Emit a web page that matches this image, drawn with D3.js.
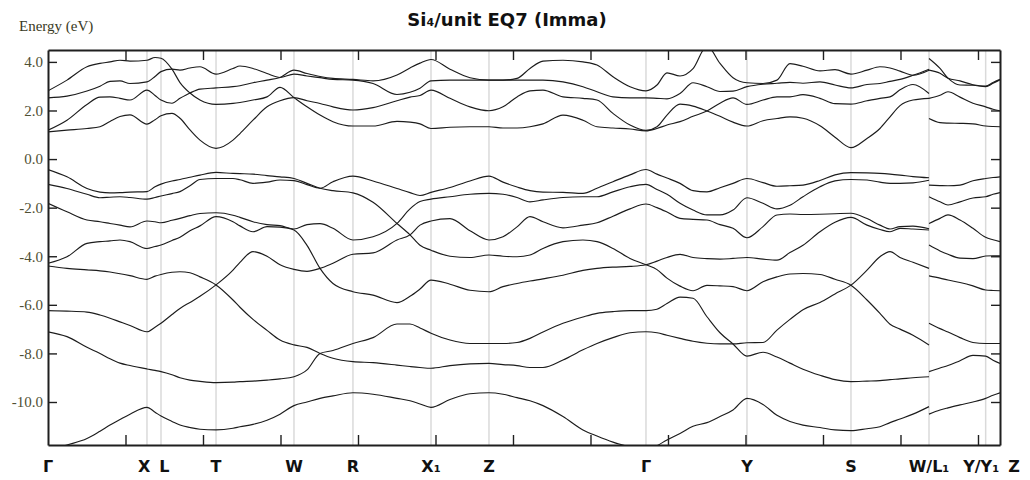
<!DOCTYPE html>
<html>
<head>
<meta charset="utf-8">
<script src="https://cdn.jsdelivr.net/npm/d3@7"></script>
<style>
    body { margin: 0; background: #ffffff; }
</style>
</head>
<body>
<div id="chart"></div>
<script>
// high symmetry points along the path (path length in tick units)
var kPoints = [0, 1.277, 1.458, 2.168, 3.174, 3.935, 4.942, 5.690, 7.716, 9.019, 10.361, 11.368, 12.099, 12.284];
var kLabels = ["Γ", "X", "L", "T", "W", "R", "X₁", "Z", "Γ", "Y", "S", "W/L₁", "Y/Y₁", "Z"];
var pathTicks = [1, 2, 3, 4, 5, 6, 7, 8, 9, 10, 11, 12];
var energyTicks = [4, 2, 0, -2, -4, -6, -8, -10];
var energyRange = [-11.77, 4.49];

// k positions where the bands were read (a repeated value = break W | L1)
var kSamples = [0, 0.245, 0.503, 0.671, 0.800, 0.929, 1.058, 1.277, 1.381, 1.458, 1.600, 1.703, 1.832, 1.961, 2.168,
    2.387, 2.477, 2.645, 2.826, 2.994, 3.174, 3.342, 3.510, 3.677, 3.935,
    4.194, 4.503, 4.671, 4.800, 4.942, 5.187, 5.445, 5.690,
    5.871, 6.052, 6.219, 6.387, 6.645, 6.903, 7.084, 7.290, 7.510, 7.716,
    7.858, 7.987, 8.155, 8.323, 8.503, 8.671, 8.839, 9.019, 9.226, 9.406, 9.574, 9.742, 9.961, 10.155, 10.361,
    10.568, 10.735, 10.865, 10.994, 11.161, 11.368,
    11.368, 11.510, 11.613, 11.768, 11.935, 12.099, 12.194, 12.284];

// energies (eV), one array per band, highest first
var c4 = [2.81, 3.25, 3.80, 3.94, 4.00, 4.07, 4.03, 4.07, 4.18, 4.15, 3.70, 3.66, 3.75, 3.80, 3.50,
    3.73, 3.83, 3.73, 3.52, 3.36, 3.66, 3.52, 3.40, 3.32, 3.28,
    3.22, 3.46, 3.75, 3.95, 4.10, 3.70, 3.35, 3.25,
    3.25, 3.32, 3.73, 4.03, 4.07, 4.00, 3.87, 3.39, 2.98, 2.81,
    3.05, 3.55, 3.42, 3.72, 4.65, 3.94, 3.35, 3.14, 3.11, 3.25, 3.93, 3.82, 3.63, 3.68, 3.50,
    3.66, 3.80, 3.75, 3.62, 3.45, 3.70,
    4.14, 3.73, 3.33, 3.22, 3.06, 3.00, 3.15, 3.28];
var c3 = [2.52, 2.59, 2.80, 3.00, 3.20, 3.22, 3.11, 3.18, 3.40, 3.60, 3.70, 3.15, 2.72, 2.88, 2.93,
    2.98, 3.02, 3.14, 3.25, 3.36, 3.50, 3.42, 3.35, 3.28, 3.25,
    3.11, 2.66, 2.75, 2.92, 3.22, 3.25, 3.25, 3.25,
    3.25, 3.25, 3.25, 3.25, 3.18, 2.98, 2.77, 2.56, 2.52, 2.52,
    2.50, 2.48, 2.70, 3.14, 2.98, 2.78, 2.80, 2.98, 3.08, 3.12, 3.16, 3.12, 3.18, 3.05, 2.93,
    3.07, 3.11, 3.20, 3.28, 3.45, 3.66,
    3.66, 3.53, 3.33, 3.05, 3.04, 2.98, 3.12, 3.26];
var c2 = [1.19, 1.60, 2.25, 2.55, 2.56, 2.50, 2.43, 2.84, 2.62, 2.43, 2.30, 2.50, 2.72, 2.43, 2.25,
    2.29, 2.33, 2.43, 2.56, 2.95, 2.53, 2.40, 2.29, 2.15, 2.02,
    2.12, 2.40, 2.55, 2.62, 2.84, 2.50, 2.15, 1.99,
    2.15, 2.56, 2.81, 2.84, 2.56, 2.50, 2.43, 1.88, 1.40, 1.18,
    1.33, 1.81, 2.26, 2.18, 1.98, 2.30, 2.52, 2.25, 2.43, 2.56, 2.56, 2.65, 2.50, 2.28, 2.26,
    2.40, 2.50, 2.56, 2.85, 3.07, 2.70,
    2.50, 2.63, 2.77, 2.55, 2.30, 2.15, 2.05, 1.99];
var c1 = [1.12, 1.19, 1.26, 1.33, 1.55, 1.75, 1.82, 1.44, 1.62, 1.78, 1.88, 1.68, 1.20, 0.78, 0.44,
    0.78, 1.05, 1.60, 2.15, 2.40, 2.53, 2.15, 1.81, 1.54, 1.36,
    1.36, 1.55, 1.52, 1.45, 1.26, 1.31, 1.33, 1.33,
    1.28, 1.28, 1.33, 1.45, 1.81, 1.60, 1.33, 1.28, 1.24, 1.16,
    1.26, 1.40, 1.54, 1.76, 1.98, 1.76, 1.52, 1.36, 1.58, 1.67, 1.74, 1.68, 1.37, 0.90, 0.47,
    0.85, 1.26, 1.74, 2.20, 2.43, 2.50,
    1.67, 1.50, 1.48, 1.47, 1.45, 1.36, 1.34, 1.33];
var v8 = [-0.43, -0.73, -1.21, -1.36, -1.39, -1.38, -1.36, -1.34, -1.14, -1.03, -0.90, -0.84, -0.75, -0.66, -0.55,
    -0.59, -0.60, -0.62, -0.68, -0.73, -0.80, -1.00, -1.20, -0.93, -0.70,
    -0.90, -1.21, -1.38, -1.50, -1.37, -1.17, -0.90, -0.70,
    -0.95, -1.15, -1.30, -1.36, -1.37, -1.41, -1.20, -0.93, -0.65, -0.43,
    -0.62, -0.78, -1.00, -1.30, -1.35, -1.18, -1.00, -0.80, -0.97, -1.12, -1.10, -1.07, -0.88, -0.65, -0.56,
    -0.57, -0.59, -0.62, -0.66, -0.72, -0.77,
    -1.07, -1.09, -1.10, -1.07, -0.89, -0.80, -0.76, -0.73];
var v7 = [-1.04, -1.21, -1.45, -1.59, -1.57, -1.55, -1.58, -1.65, -1.58, -1.52, -1.42, -1.34, -1.10, -0.84, -0.80,
    -0.80, -0.85, -1.00, -0.95, -0.86, -0.89, -1.05, -1.20, -1.30, -1.39,
    -1.78, -2.65, -2.05, -1.75, -1.65, -1.55, -1.45, -1.41,
    -1.45, -1.58, -1.76, -1.68, -1.58, -1.55, -1.55, -1.35, -1.14, -1.04,
    -1.25, -1.45, -1.82, -2.10, -2.30, -2.30, -2.10, -1.59, -1.82, -2.05, -1.90, -1.55, -1.14, -0.90, -0.84,
    -0.86, -0.95, -1.00, -1.00, -0.98, -0.87,
    -1.55, -1.76, -1.89, -1.76, -1.60, -1.55, -1.45, -1.38];
var v6 = [-1.82, -2.17, -2.51, -2.58, -2.65, -2.72, -2.79, -2.55, -2.58, -2.62, -2.52, -2.44, -2.33, -2.24, -2.21,
    -2.31, -2.40, -2.58, -2.70, -2.74, -2.88, -2.70, -2.66, -2.85, -3.33,
    -3.20, -2.65, -3.12, -2.72, -2.55, -2.45, -2.95, -3.33,
    -3.20, -2.79, -2.37, -2.58, -2.83, -2.72, -2.62, -2.35, -2.05, -1.85,
    -2.00, -2.18, -2.44, -2.48, -2.51, -2.70, -2.85, -3.24, -2.78, -2.30, -2.26, -2.28, -2.27, -2.25, -2.23,
    -2.45, -2.72, -2.88, -2.78, -2.76, -2.87,
    -2.65, -2.44, -2.30, -2.51, -2.85, -3.22, -3.32, -3.40];
var v5 = [-4.29, -4.02, -3.47, -3.40, -3.37, -3.33, -3.40, -3.68, -3.60, -3.54, -3.35, -3.22, -2.95, -2.75, -2.37,
    -2.58, -2.75, -2.99, -2.78, -2.80, -2.92, -3.55, -4.50, -4.29, -3.92,
    -3.86, -3.33, -3.12, -3.55, -3.75, -4.00, -4.05, -3.95,
    -4.00, -4.02, -3.95, -3.68, -3.40, -3.33, -3.40, -3.68, -4.09, -4.35,
    -4.20, -4.05, -3.92, -4.05, -4.10, -4.12, -4.09, -4.05, -4.12, -4.16, -3.85, -3.55, -2.99, -2.60, -2.40,
    -2.72, -2.90, -2.99, -2.85, -2.88, -2.92,
    -3.54, -3.78, -3.92, -4.08, -4.10, -3.99, -3.98, -3.98];
var v4 = [-4.40, -4.50, -4.56, -4.60, -4.65, -4.72, -4.80, -4.95, -4.82, -4.75, -4.66, -4.64, -4.68, -4.85, -5.18,
    -4.57, -4.25, -3.81, -4.00, -4.35, -4.54, -4.62, -4.50, -5.12, -5.46,
    -5.60, -5.91, -5.65, -5.35, -4.98, -5.15, -5.40, -5.46,
    -5.25, -5.12, -5.02, -4.93, -4.78, -4.58, -4.50, -4.45, -4.42, -4.35,
    -4.55, -4.90, -5.23, -5.42, -5.20, -5.22, -5.25, -5.42, -5.05, -4.85, -4.73, -4.71, -4.75, -4.95, -5.19,
    -4.57, -4.02, -3.81, -4.05, -4.25, -4.50,
    -4.81, -4.90, -4.98, -5.08, -5.22, -5.39, -5.41, -5.42];
var v3 = [-6.24, -6.26, -6.30, -6.42, -6.55, -6.70, -6.85, -7.11, -6.92, -6.76, -6.40, -6.15, -5.90, -5.65, -5.18,
    -5.80, -6.10, -6.60, -7.05, -7.45, -7.65, -7.75, -8.00, -7.88, -7.59,
    -7.35, -6.79, -6.79, -6.95, -7.17, -7.45, -7.59, -7.59,
    -7.59, -7.55, -7.38, -7.12, -6.76, -6.50, -6.35, -6.28, -6.24, -6.24,
    -6.18, -5.95, -5.68, -5.73, -6.49, -7.15, -7.61, -7.56, -7.55, -7.04, -6.60, -6.20, -5.90, -5.55, -5.19,
    -5.80, -6.35, -6.80, -7.00, -7.25, -7.65,
    -6.76, -6.98, -7.12, -7.35, -7.55, -7.59, -7.59, -7.59];
var v2 = [-7.11, -7.31, -7.75, -8.00, -8.22, -8.40, -8.50, -8.64, -8.70, -8.75, -8.88, -9.00, -9.10, -9.15, -9.20,
    -9.18, -9.16, -9.14, -9.10, -9.05, -8.96, -8.68, -8.00, -8.20, -8.34,
    -8.38, -8.48, -8.54, -8.58, -8.61, -8.50, -8.43, -8.41,
    -8.46, -8.50, -8.58, -8.58, -8.27, -7.85, -7.59, -7.35, -7.15, -7.11,
    -7.15, -7.25, -7.38, -7.50, -7.58, -7.61, -7.61, -8.11, -7.95, -8.15, -8.40, -8.65, -8.90, -9.08, -9.16,
    -9.14, -9.12, -9.08, -9.05, -9.00, -8.96,
    -8.75, -8.60, -8.50, -8.30, -8.08, -8.11, -8.28, -8.41];
var v1 = [-12.00, -11.77, -11.50, -11.20, -10.95, -10.72, -10.50, -10.22, -10.42, -10.58, -10.80, -10.95, -11.05, -11.12, -11.15,
    -11.08, -11.02, -10.92, -10.75, -10.50, -10.15, -10.00, -9.85, -9.75, -9.62,
    -9.68, -9.85, -9.95, -10.08, -10.22, -9.90, -9.66, -9.62,
    -9.68, -9.82, -9.95, -10.15, -10.60, -11.15, -11.40, -11.65, -11.85, -12.00,
    -11.80, -11.56, -11.30, -11.00, -10.85, -10.60, -10.33, -9.85, -10.10, -10.55, -10.80, -10.95, -11.05, -11.15, -11.18,
    -11.10, -11.02, -10.85, -10.70, -10.50, -10.19,
    -10.50, -10.33, -10.24, -10.12, -10.00, -9.85, -9.72, -9.62];

// [sample index, band slot] where two neighbouring bands cross
var crossings = [[10, 0], [12, 1], [14, 8], [19, 0], [20, 2], [22, 4], [22, 7], [22, 9],
    [26, 5], [27, 6], [42, 7], [47, 2], [49, 9], [57, 8], [62, 0], [66, 0]];


function init() {
    var w = 1030;
    var h = 480;
    var plot = { left: 48, right: 1000, top: 50, bottom: 445 };

    var svg = d3.select("#chart")
        .append("svg")
        .attr("width", w)
        .attr("height", h);

    var xScale = d3.scaleLinear()
        .domain([0, kPoints[kPoints.length - 1]])
        .range([plot.left, plot.right]);

    var yScale = d3.scaleLinear()
        .domain(energyRange)
        .range([plot.bottom, plot.top]);

    svg.append("clipPath")
        .attr("id", "plotclip")
        .append("rect")
        .attr("x", plot.left)
        .attr("y", plot.top)
        .attr("width", plot.right - plot.left)
        .attr("height", plot.bottom - plot.top);

    // vertical lines at the symmetry points
    svg.selectAll("line.grid")
        .data(kPoints.slice(1, -1))
        .enter()
        .append("line")
        .attr("class", "grid")
        .attr("x1", function (d) { return xScale(d); })
        .attr("x2", function (d) { return xScale(d); })
        .attr("y1", plot.top)
        .attr("y2", plot.bottom)
        .attr("stroke", "#dadada")
        .attr("stroke-width", 1.5);

    // follow each band through the crossings
    var slots = [c4, c3, c2, c1, v8, v7, v6, v5, v4, v3, v2, v1];
    var owner = d3.range(slots.length);
    var tracks = slots.map(function () { return [[]]; });
    kSamples.forEach(function (k, i) {
        if (i > 0 && k === kSamples[i - 1]) {
            tracks.forEach(function (t) { t.push([]); });
        }
        owner.forEach(function (b, s) {
            var t = tracks[b];
            t[t.length - 1].push([k, slots[s][i]]);
        });
        crossings.forEach(function (c) {
            if (c[0] === i) {
                var s = c[1];
                var tmp = owner[s];
                owner[s] = owner[s + 1];
                owner[s + 1] = tmp;
            }
        });
    });
    var pieces = [];
    tracks.forEach(function (t) { pieces = pieces.concat(t); });

    var line = d3.line()
        .x(function (d) { return xScale(d[0]); })
        .y(function (d) { return yScale(d[1]); })
        .curve(d3.curveMonotoneX);

    svg.append("g")
        .attr("clip-path", "url(#plotclip)")
        .selectAll("path")
        .data(pieces)
        .enter()
        .append("path")
        .attr("d", line)
        .attr("fill", "none")
        .attr("stroke", "#1c1c1c")
        .attr("stroke-width", 1.15);

    // frame with inward ticks
    var yAxisL = d3.axisLeft(yScale).tickValues(energyTicks).tickSize(-9).tickSizeOuter(0).tickPadding(5)
        .tickFormat(function (d) { return d.toFixed(1); });
    var yAxisR = d3.axisRight(yScale).tickValues(energyTicks).tickSize(-9).tickSizeOuter(0).tickFormat("");
    var xAxisT = d3.axisTop(xScale).tickValues(pathTicks).tickSize(-10).tickSizeOuter(0).tickFormat("");
    var xAxisB = d3.axisBottom(xScale).tickValues(pathTicks).tickSize(-10).tickSizeOuter(0).tickFormat("");

    var axes = [
        svg.append("g").attr("transform", "translate(" + plot.left + ",0)").call(yAxisL),
        svg.append("g").attr("transform", "translate(" + plot.right + ",0)").call(yAxisR),
        svg.append("g").attr("transform", "translate(0," + plot.top + ")").call(xAxisT),
        svg.append("g").attr("transform", "translate(0," + plot.bottom + ")").call(xAxisB)
    ];
    axes.forEach(function (g) {
        g.select(".domain").attr("stroke", "#1f1f1f").attr("stroke-width", 2);
        g.selectAll(".tick line").attr("stroke", "#1f1f1f").attr("stroke-width", 1.4);
    });
    axes[0].selectAll(".tick text")
        .attr("font-family", "'Liberation Serif', 'DejaVu Serif', serif")
        .attr("font-size", "15px")
        .attr("fill", "#4f4f33");

    // symmetry point labels, pushed apart where crowded (narrow labels give way more)
    var labels = svg.append("g")
        .selectAll("text")
        .data(kLabels)
        .enter()
        .append("text")
        .attr("x", function (d, i) { return xScale(kPoints[i]); })
        .attr("y", 472)
        .attr("text-anchor", "middle")
        .attr("font-family", "'DejaVu Sans', Verdana, sans-serif")
        .attr("font-weight", "bold")
        .attr("font-size", "16px")
        .attr("fill", "#111")
        .text(function (d) { return d; });

    var boxes = labels.nodes().map(function (n, i) {
        return { c: xScale(kPoints[i]), w: n.getComputedTextLength() };
    });
    var minGap = 9;
    for (var pass = 0; pass < 6; pass++) {
        for (var i = 1; i < boxes.length; i++) {
            var a = boxes[i - 1], b = boxes[i];
            var gap = (b.c - b.w / 2) - (a.c + a.w / 2);
            if (gap < minGap) {
                var d = minGap - gap;
                a.c -= d * b.w / (a.w + b.w);
                b.c += d * a.w / (a.w + b.w);
            }
        }
    }
    labels.attr("x", function (d, i) { return boxes[i].c; });

    svg.append("text")
        .attr("x", 19)
        .attr("y", 31)
        .attr("font-family", "'Liberation Serif', 'DejaVu Serif', serif")
        .attr("font-size", "15px")
        .attr("fill", "#3a3a24")
        .text("Energy (eV)");

    svg.append("text")
        .attr("x", 507)
        .attr("y", 26)
        .attr("text-anchor", "middle")
        .attr("font-family", "'DejaVu Sans', Verdana, sans-serif")
        .attr("font-weight", "bold")
        .attr("font-size", "18px")
        .attr("fill", "#111")
        .text("Si₄/unit EQ7 (Imma)");
}

init();
</script>
</body>
</html>
